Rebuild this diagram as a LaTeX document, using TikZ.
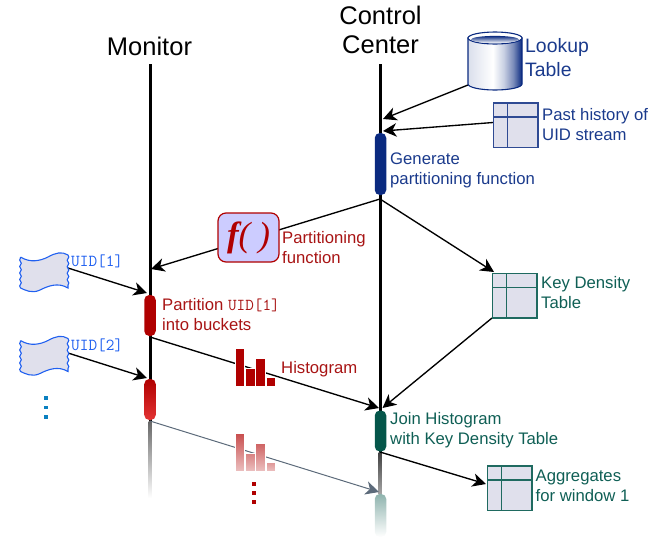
\documentclass[tikz,border=0pt]{standalone}
\usepackage{fontspec}
\setmainfont{Liberation Sans}
\newfontfamily\fxfont{Liberation Serif}
\usetikzlibrary{arrows.meta,decorations.pathmorphing,calc}
\definecolor{navy}{HTML}{0A2A80}
\definecolor{navytxt}{HTML}{1A3A8C}
\definecolor{redbar}{HTML}{B00000}
\definecolor{redtxt}{HTML}{A81414}
\definecolor{greenbar}{HTML}{05564A}
\definecolor{greentxt}{HTML}{0F5F55}
\definecolor{greenedge}{HTML}{1F6A60}
\definecolor{tablefill}{HTML}{E0E0EC}
\definecolor{flagblue}{HTML}{2060F0}
\definecolor{dotblue}{HTML}{0A80C0}
\definecolor{fadegray}{HTML}{5C6A7A}
\pgfdeclarehorizontalshading{cylbody}{100bp}{
  color(0bp)=(white!85!navy); color(25bp)=(white!85!navy); color(48bp)=(white);
  color(58bp)=(white!78!navy); color(67bp)=(navy!55!white); color(75bp)=(navy); color(100bp)=(navy)}
\tikzset{
  x=1pt,y=-1pt,
  lifeline/.style={line width=3pt,black},
  bar/.style={rounded corners=5pt,minimum width=11.5pt,inner sep=0pt,outer sep=0pt,text width=0pt},
  arr/.style={-{Stealth[length=13.5pt,width=13.5pt,inset=4pt]},line width=1.35pt,black},
  head/.style={font=\fontsize{25.5}{29}\selectfont,align=center,text=black,inner sep=0pt},
  lab/.style={font=\fontsize{16.7}{20}\selectfont,align=left,anchor=west,inner sep=0pt},
  bigl/.style={font=\fontsize{19.4}{23.5}\selectfont,align=left,anchor=west,inner sep=0pt},
  uidl/.style={font=\fontsize{16.8}{18}\selectfont\ttfamily,text=flagblue,anchor=west,inner sep=0pt},
  hbar/.style={draw=white,line width=0.8pt},
  dot/.style={fill,minimum size=3.6pt,inner sep=0pt,outer sep=0pt},
  wav/.style={decorate,decoration={snake,amplitude=0.8pt,segment length=6.5pt}},
}
\newcommand{\flagat}[2]{%
  \node[minimum width=48pt,minimum height=40pt,inner sep=0pt] (#1) at (44,#2) {};
  \begin{scope}[shift={(20,#2-20)}]
    \path[draw=flagblue,fill=tablefill,line width=1.1pt]
      (0.5,5) .. controls (10,11) and (20,9) .. (28,5)
      .. controls (35,1) and (42,-1) .. (48,3)
      decorate[wav] { -- (48,36) }
      .. controls (38,30) and (28,34) .. (20,38)
      .. controls (12,42) and (5,38) .. (0.5,36)
      decorate[wav] { -- (0.5,5) };
  \end{scope}}
\newcommand{\tableat}[4]{% name, x, y, colour
  \node[draw=#4,fill=tablefill,line width=1.2pt,minimum size=44.5pt,inner sep=0pt,outer sep=0pt,anchor=north west] (#1) at (#2,#3) {};
  \draw[#4,line width=1.2pt] (#2+14,#3) -- (#2+14,#3+44.5);
  \draw[#4,line width=1.2pt] (#2,#3+14) -- (#2+44.5,#3+14);}
\begin{document}
\begin{tikzpicture}
\path[use as bounding box] (0,0) rectangle (661,539);

% lifelines
\coordinate (mtop) at (150,64);
\coordinate (mend) at (150,421);
\coordinate (ctop) at (380,64);
\coordinate (cend) at (380,452);
\draw[lifeline] (mtop) -- (mend);
\draw[lifeline] (ctop) -- (cend);
\shade[top color=black!60,bottom color=white] (148.5,421) rectangle (151.5,498);
\shade[top color=black!75,bottom color=black!35] (378.5,452) rectangle (381.5,494);

\node[head] (monitor) at (149.5,46) {Monitor};
\node[head] (control) at (380.5,30) {Control\\Center};

% connectors
\coordinate (gensrc) at (380,199);
\coordinate (fin) at (151,269);
\coordinate (kin) at (494,272);
\coordinate (lookup1) at (468,85);
\coordinate (lookup2) at (383,119);
\coordinate (past1) at (493,122.5);
\coordinate (past2) at (383,131);
\coordinate (kd1) at (492,318);
\coordinate (join1) at (382.5,408);
\coordinate (join2) at (379,408);
\coordinate (u1a) at (68,268);
\coordinate (u1b) at (147,293);
\coordinate (u2a) at (68,353);
\coordinate (u2b) at (147,378);
\coordinate (p1) at (150,337);
\coordinate (p2) at (150,421);
\coordinate (lj) at (379,492);
\coordinate (g1) at (380,452);
\coordinate (g2) at (486,484);

\draw[arr] (lookup1) -- (lookup2);
\draw[arr] (past1) -- (past2);
\draw[arr] (gensrc) -- (fin);
\draw[arr] (gensrc) -- (kin);
\draw[arr] (kd1) -- (join1);
\draw[arr] (p1) -- (join2);
\draw[arr,fadegray,line width=1pt] (p2) -- (lj);
\draw[arr] (g1) -- (g2);
\draw[arr] (u1a) -- (u1b);
\draw[arr] (u2a) -- (u2b);

% activation bars
\node[bar,fill=navy,minimum height=62pt] (genbar) at (380.5,164) {};
\node[bar,fill=redbar,minimum height=41pt] (partbar) at (150,315.5) {};
\node[bar,top color=redbar,bottom color=red!55!redbar!80!white,minimum height=41pt] (part2) at (150,399.5) {};
\node[bar,fill=greenbar,minimum height=41pt] (joinbar) at (380.5,431) {};
\node[bar,top color=greenbar!45!white,bottom color=white,minimum height=43pt] (join2bar) at (380.5,515.5) {};

% lookup table cylinder
\node[minimum width=54pt,minimum height=58pt,inner sep=0pt] (cyl) at (495,61) {};
\path[draw=navy,line width=1.1pt,shading=cylbody]
  (468,38) -- (468,84) arc[start angle=180,end angle=360,x radius=27pt,y radius=6pt] -- (522,38) -- cycle;
\path[draw=navy,line width=1.1pt,fill=white] (495,38) ellipse[x radius=27pt,y radius=6pt];
\path[top color=navy,middle color=white!55!navy,bottom color=white] (495,39.5) ellipse[x radius=24pt,y radius=3.6pt];
\node[bigl,text=navytxt] (lookuplab) at (525,57.5) {Lookup\\Table};

% tables
\tableat{past}{493.5}{103}{navy!85!white}
\node[lab,text=navytxt] (pastlab) at (542,124.5) {Past history of\\UID stream};
\tableat{kd}{492.5}{273.5}{greenedge}
\node[lab,text=greentxt] (kdlab) at (541,293) {Key Density\\Table};
\tableat{agg}{487.5}{466}{greenedge}
\node[lab,text=greentxt] (agglab) at (535.5,486) {Aggregates\\for window 1};

\node[lab,text=navytxt] (genlab) at (390,170) {Generate\\partitioning function};
\node[lab,text=greentxt] (joinlab) at (390,430) {Join Histogram\\with Key Density Table};

% f() box
\node[draw=redbar,fill=blue!20,line width=1.2pt,rounded corners=8pt,minimum width=61pt,minimum height=49pt,inner sep=0pt,
      text=redbar,font=\fontsize{35}{35}\selectfont\fxfont\itshape] (fbox) at (248.5,237.5) {\textbf{f}(\kern8pt)};
\node[lab,text=redtxt] (flab) at (282,247.5) {Partitioning\\function};

% flags
\flagat{flag1}{272}
\flagat{flag2}{355.5}
\node[uidl] (uid1) at (71,261) {UID[1]};
\node[uidl] (uid2) at (71,345) {UID[2]};
\node[dot,fill=dotblue] (bd1) at (45.7,398) {};
\node[dot,fill=dotblue] (bd2) at (45.7,407.5) {};
\node[dot,fill=dotblue] (bd3) at (45.7,417) {};

\node[lab,text=redtxt] (partlab) at (162,315) {Partition {\ttfamily UID[1]}\\into buckets};

% histograms
\path[hbar,fill=redbar] (235,348) rectangle (244.5,386);
\path[hbar,fill=redbar] (245.5,368) rectangle (255,386);
\path[hbar,fill=redbar] (255.5,358) rectangle (265,386);
\path[hbar,fill=redbar] (266,377) rectangle (275.5,386);
\node[lab,text=redtxt] (histlab) at (281,369) {Histogram};

\path[hbar,top color=redbar!70!white,bottom color=redbar!25!white] (235,433) rectangle (244.5,471);
\path[hbar,top color=redbar!50!white,bottom color=redbar!25!white] (245.5,453) rectangle (255,471);
\path[hbar,top color=redbar!62!white,bottom color=redbar!25!white] (255.5,443) rectangle (265,471);
\path[hbar,top color=redbar!42!white,bottom color=redbar!25!white] (266,462) rectangle (275.5,471);
\node[dot,fill=redbar] (rd1) at (254,484) {};
\node[dot,fill=redbar] (rd2) at (254,493) {};
\node[dot,fill=redbar] (rd3) at (254,502) {};
\end{tikzpicture}
\end{document}
